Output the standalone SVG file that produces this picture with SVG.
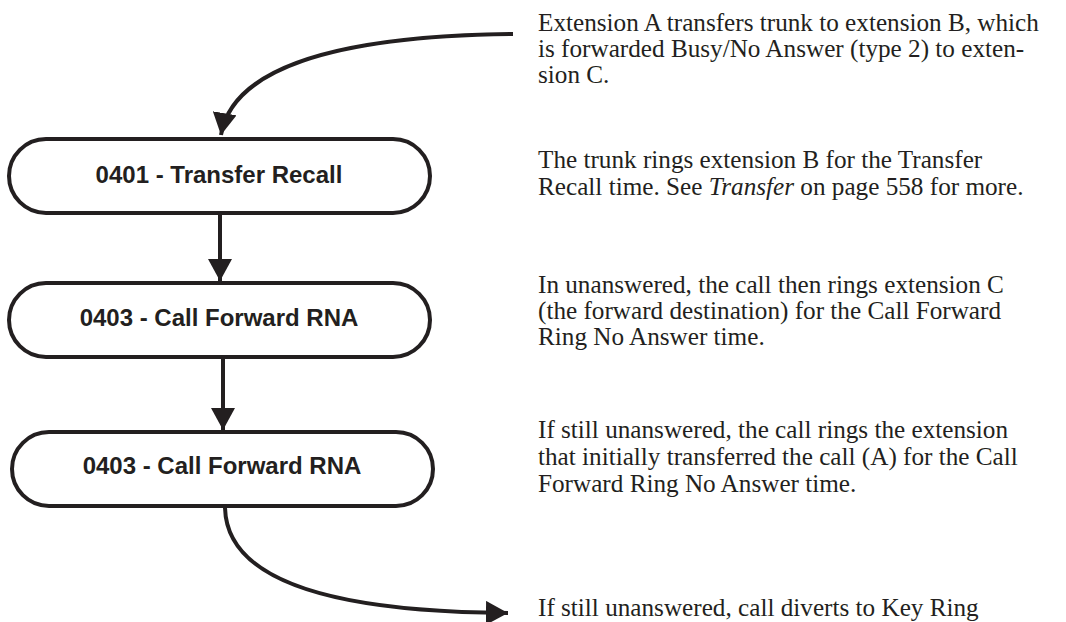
<svg xmlns="http://www.w3.org/2000/svg" width="1066" height="622" viewBox="0 0 1066 622">
<style>
.node rect{fill:#fff;stroke:#231f20;stroke-width:4}
.node text{font-family:"Liberation Sans",Arial,sans-serif;font-weight:bold;font-size:24px;fill:#231f20;text-anchor:middle}
.conn path{fill:none;stroke:#231f20;stroke-width:4}
.desc{font-family:"Liberation Serif","Times New Roman",serif;font-size:25.2px;fill:#231f20}
</style>
<defs>
<marker id="ah" markerUnits="userSpaceOnUse" markerWidth="24" markerHeight="24" viewBox="0 0 24 24" refX="22" refY="12" orient="auto">
<path d="M0,0 L22,12 L0,24 Z" fill="#231f20"/>
</marker>
</defs>
<rect width="1066" height="622" fill="#fff"/>
<g id="connectors" class="conn">
<path d="M513,34 C330,36 232,70 221,135" marker-end="url(#ah)"/>
<path d="M220,213 L220,281" marker-end="url(#ah)"/>
<path d="M223,357 L223,430" marker-end="url(#ah)"/>
<path d="M225,506 C225,580 330,612 508,613" marker-end="url(#ah)"/>
</g>
<g id="node1" class="node">
<rect x="9" y="139" width="421" height="74" rx="37" ry="37"/>
<text x="219" y="183">0401 - Transfer Recall</text>
</g>
<g id="node2" class="node">
<rect x="9" y="283" width="421" height="74" rx="37" ry="37"/>
<text x="219" y="326">0403 - Call Forward RNA</text>
</g>
<g id="node3" class="node">
<rect x="12" y="432" width="421" height="74" rx="37" ry="37"/>
<text x="222" y="474">0403 - Call Forward RNA</text>
</g>
<g id="notes" class="desc">
<text x="538" y="31">Extension A transfers trunk to extension B, which</text>
<text x="538" y="57">is forwarded Busy/No Answer (type 2) to exten-</text>
<text x="538" y="83">sion C.</text>
<text x="538" y="168">The trunk rings extension B for the Transfer</text>
<text x="538" y="195">Recall time. See <tspan font-style="italic">Transfer</tspan> on page 558 for more.</text>
<text x="538" y="293">In unanswered, the call then rings extension C</text>
<text x="538" y="319">(the forward destination) for the Call Forward</text>
<text x="538" y="345">Ring No Answer time.</text>
<text x="538" y="438">If still unanswered, the call rings the extension</text>
<text x="538" y="465">that initially transferred the call (A) for the Call</text>
<text x="538" y="492">Forward Ring No Answer time.</text>
<text x="538" y="616">If still unanswered, call diverts to Key Ring</text>
</g>
</svg>
